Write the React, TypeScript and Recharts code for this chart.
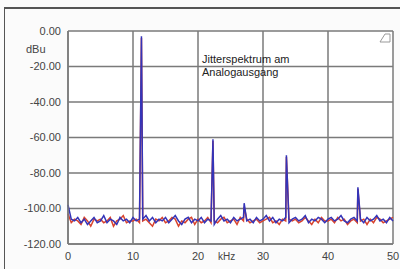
import { LineChart, Line, XAxis, YAxis, CartesianGrid } from 'recharts';

const freqs = [
  0, 0.5, 1, 1.5, 2, 2.5, 3, 3.5, 4, 4.5,
  5, 5.5, 6, 6.5, 7, 7.5, 8, 8.5, 9, 9.5,
  10, 10.5, 11, 11.3, 11.5, 12, 12.5, 13, 13.5, 14, 14.5,
  15, 15.5, 16, 16.5, 17, 17.5, 18, 18.5, 19, 19.5,
  20, 20.5, 21, 21.5, 22, 22.3, 22.5, 23, 23.5, 24, 24.5,
  25, 25.5, 26, 26.5, 27, 27.1, 27.5, 28, 28.5, 29, 29.5,
  30, 30.5, 31, 31.5, 32, 32.5, 33, 33.5, 33.6, 34, 34.5,
  35, 35.5, 36, 36.5, 37, 37.5, 38, 38.5, 39, 39.5,
  40, 40.5, 41, 41.5, 42, 42.5, 43, 43.5, 44, 44.5, 44.6,
  45, 45.5, 46, 46.5, 47, 47.5, 48, 48.5, 49, 49.5, 50,
];

const blueLevels = [
  -98, -106, -107, -105, -108, -106, -109, -107, -105, -108,
  -107, -104, -108, -106, -107, -109, -105, -107, -106, -108,
  -105, -107, -106, -3, -106, -104, -107, -105, -108, -106, -107,
  -105, -108, -106, -104, -107, -109, -106, -105, -108, -106,
  -107, -105, -108, -106, -107, -61, -109, -106, -104, -107, -106,
  -108, -105, -107, -106, -105, -97, -107, -106, -108, -105, -107,
  -106, -104, -107, -105, -108, -106, -107, -105, -70, -108, -106,
  -105, -107, -106, -104, -108, -106, -107, -105, -106, -108,
  -106, -105, -107, -106, -104, -107, -108, -106, -105, -107, -88,
  -106, -108, -105, -107, -106, -104, -107, -106, -108, -105, -107,
];

const redLevels = [
  -103, -108, -106, -107, -109, -105, -107, -110, -106, -107,
  -106, -108, -107, -105, -110, -107, -106, -104, -108, -107,
  -107, -106, -108, -4, -107, -106, -108, -110, -106, -107, -105,
  -108, -107, -105, -106, -110, -107, -108, -106, -105, -109,
  -106, -108, -107, -105, -108, -62, -107, -108, -106, -105, -108,
  -107, -106, -109, -105, -107, -99, -106, -108, -107, -106, -108,
  -107, -106, -105, -108, -107, -109, -106, -107, -71, -106, -107,
  -106, -108, -107, -105, -107, -109, -106, -108, -105, -107,
  -107, -106, -108, -105, -107, -106, -109, -107, -106, -108, -89,
  -107, -106, -109, -106, -108, -105, -106, -108, -107, -106, -105,
];

const xTicks = [0, 10, 20, 30, 40, 50];
const yTicks = [0, -20, -40, -60, -80, -100, -120];

const data = freqs.map((f, i) => ({ f, blue: blueLevels[i], red: redLevels[i] }));

const font = '"Liberation Sans", Arial, sans-serif';
const tickStyle = { fontSize: 11, fill: '#444', fontFamily: font };

export default function App() {
  return (
    <div style={{ position: 'absolute', left: 0, top: 0, width: 400, height: 269, background: '#fbfbfb', fontFamily: font }}>
      <div style={{ position: 'absolute', left: 4, top: 7, width: 396, height: 262, borderTop: '2px solid #555', borderLeft: '1.5px solid #555', boxSizing: 'border-box' }} />
      <LineChart width={400} height={269} data={data} margin={{ top: 31, right: 7, left: 0, bottom: 0 }}>
        <CartesianGrid stroke="#7a7a7a" strokeWidth={1.5} fill="#fff" />
        <XAxis
          dataKey="f"
          type="number"
          domain={[0, 50]}
          ticks={xTicks}
          height={25}
          tickLine={false}
          axisLine={{ stroke: '#7a7a7a', strokeWidth: 1.5 }}
          tick={tickStyle}
          tickMargin={2}
        />
        <YAxis
          type="number"
          domain={[-120, 0]}
          ticks={yTicks}
          width={68}
          tickLine={false}
          axisLine={{ stroke: '#7a7a7a', strokeWidth: 1.5 }}
          tick={tickStyle}
          tickMargin={1}
          tickFormatter={(v: number) => v.toFixed(2)}
        />
        <Line dataKey="red" stroke="#d9442e" strokeWidth={1.5} dot={false} isAnimationActive={false} type="linear" />
        <Line dataKey="blue" stroke="#3434b8" strokeWidth={1.5} dot={false} isAnimationActive={false} type="linear" />
      </LineChart>
      <div style={{ position: 'absolute', left: 26, top: 43, fontSize: 11, color: '#444' }}>dBu</div>
      <div style={{ position: 'absolute', left: 218, top: 251, fontSize: 10, color: '#444' }}>kHz</div>
      <div style={{ position: 'absolute', left: 202, top: 53, fontSize: 11, color: '#222', lineHeight: '13px' }}>
        Jitterspektrum am<br />Analogausgang
      </div>
      <svg style={{ position: 'absolute', left: 378, top: 32 }} width={14} height={12}>
        <path d="M2 10 L7 2 L12 2 L12 10 Z" fill="none" stroke="#999" strokeWidth={1} />
      </svg>
    </div>
  );
}
